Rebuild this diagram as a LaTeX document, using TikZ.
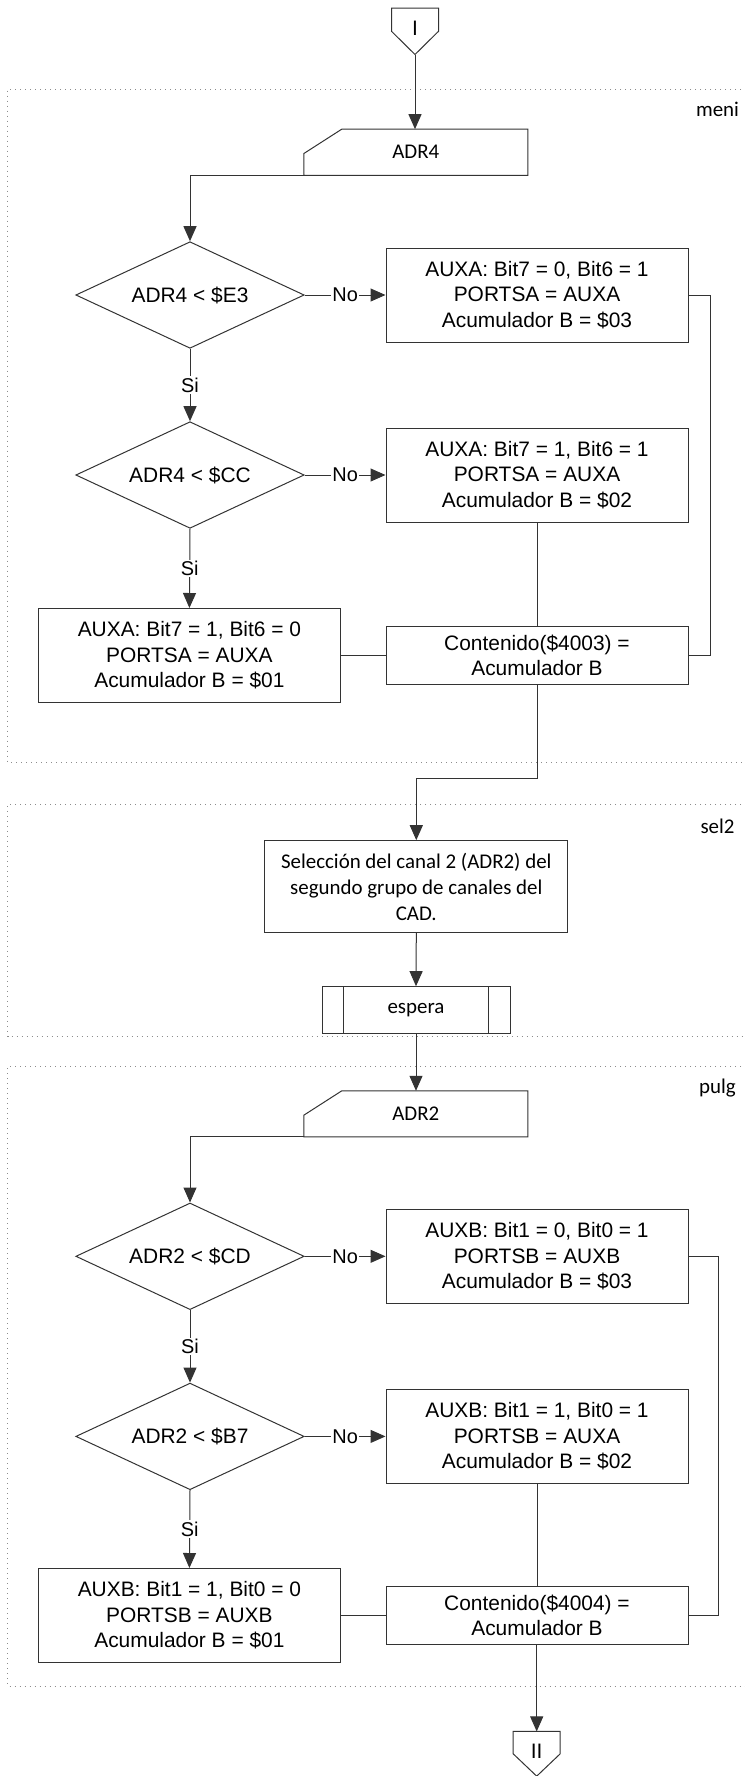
\documentclass[tikz,border=0pt]{standalone}
\usepackage{fontspec}
\setmainfont{Liberation Sans}
\newfontfamily\calibri{Carlito}
\usetikzlibrary{
    arrows.meta,
    positioning,
    calc,
    shapes.geometric
}

\tikzset{
    box/.style={draw=black!80,line width=1bp,minimum width=302bp,minimum height=94bp,
        inner sep=0pt,align=center,font=\fontsize{21}{25.5}\selectfont},
    contbox/.style={box,minimum height=57.6bp},
    cond/.style={diamond,draw=black!80,line width=1bp,minimum width=228.4bp,
        minimum height=106.6bp,shape aspect=2.14,inner sep=0pt,
        font=\fontsize{21}{25.5}\selectfont},
    inbox/.style={minimum width=223.6bp,minimum height=45.7bp,inner sep=0pt,
        font=\calibri\fontsize{21}{26}\selectfont},
    offpage/.style={minimum width=46.6bp,inner sep=0pt,font=\fontsize{21}{25.5}\selectfont},
    flow/.style={draw=black!80,line width=1bp},
    arr/.style={flow,-{Triangle[length=15bp,width=13bp]}},
    yesno/.style={fill=white,inner sep=1.5bp,font=\fontsize{20}{24}\selectfont},
    region/.style={draw=black!45,line width=1bp,dash pattern=on 1bp off 4bp},
    regname/.style={anchor=base,font=\calibri\fontsize{21}{26}\selectfont}
}

\begin{document}
\begin{tikzpicture}[x=1bp,y=-1bp]
    \useasboundingbox (0,0) rectangle (745,1776);

    % dotted regions
    \draw[region] (746,89) -- (7.5,89) -- (7.5,762) -- (746,762);
    \draw[region] (746,804.3) -- (7.5,804.3) -- (7.5,1036.7) -- (746,1036.7);
    \draw[region] (746,1066.7) -- (7.5,1066.7) -- (7.5,1686) -- (746,1686);
    \node[regname] (lmeni) at (717.5,116.7) {meni};
    \node[regname] (lsel) at (717.5,833.3) {sel2};
    \node[regname] (lpulg) at (717.5,1093.5) {pulg};

    % meni
    \node[offpage,minimum height=46bp] (conI) at (415,31.3) {\raisebox{6bp}{I}};
    \draw[flow] (conI.north west) -- (conI.north east) -- (conI.east) -- (conI.south) -- (conI.west) -- cycle;

    \node[inbox] (adr4) at (415.8,152.2) {ADR4};
    \draw[flow] (adr4.south west) -- ++(0,-21.7) -- ($(adr4.north west)+(38,0)$)
        -- (adr4.north east) -- (adr4.south east) -- cycle;

    \node[cond] (d1) at (190,295) {ADR4 < \$E3};
    \node[cond] (d2) at (190,475) {ADR4 < \$CC};
    \node[box] (b1) at (537,295) {AUXA: Bit7 = 0, Bit6 = 1\\PORTSA = AUXA\\Acumulador B = \$03};
    \node[box] (b2) at (537,475) {AUXA: Bit7 = 1, Bit6 = 1\\PORTSA = AUXA\\Acumulador B = \$02};
    \node[box] (b3) at (189.4,655.5) {AUXA: Bit7 = 1, Bit6 = 0\\PORTSA = AUXA\\Acumulador B = \$01};
    \node[contbox] (b4) at (537,655.5) {Contenido(\$4003) =\\Acumulador B};

    \draw[arr] (conI.south) -- (conI.south |- adr4.north);
    \draw[arr] (adr4.south west) -| (d1.north);
    \draw[arr] (d1.east) -- node[yesno] {No} (b1.west);
    \draw[arr] (d1.south) -- node[yesno] {Si} (d2.north);
    \draw[arr] (d2.east) -- node[yesno] {No} (b2.west);
    \draw[arr] (d2.south) -- node[yesno] {Si} (b3.north);
    \draw[flow] (b2.south) -- (b4.north);
    \draw[flow] (b3.east) -- (b4.west);
    \draw[flow] (b1.east) -- ++(21.6,0) |- (b4.east);

    % sel2
    \node[box,minimum width=303.3bp,minimum height=92bp,font=\calibri\fontsize{21}{26}\selectfont]
        (sel) at (416.3,886.7) {Selección del canal 2 (ADR2) del\\segundo grupo de canales del\\CAD.};
    \node[box,minimum width=188bp,minimum height=46.6bp,font=\calibri\fontsize{21}{26}\selectfont]
        (esp) at (416,1010) {espera};
    \draw[flow] ($(esp.north west)+(21.6,0)$) -- ($(esp.south west)+(21.6,0)$);
    \draw[flow] ($(esp.north east)+(-21.6,0)$) -- ($(esp.south east)+(-21.6,0)$);

    \draw[arr] (b4.south) -- ++(0,94) -| (sel.north);
    \draw[arr] (sel.south) -- (esp.north);

    % pulg
    \node[inbox] (adr2) at (415.8,1113.85) {ADR2};
    \draw[flow] (adr2.south west) -- ++(0,-21.7) -- ($(adr2.north west)+(38,0)$)
        -- (adr2.north east) -- (adr2.south east) -- cycle;

    \node[cond] (d3) at (190,1256.3) {ADR2 < \$CD};
    \node[cond] (d4) at (190,1436.4) {ADR2 < \$B7};
    \node[box] (b5) at (537,1256.3) {AUXB: Bit1 = 0, Bit0 = 1\\PORTSB = AUXB\\Acumulador B = \$03};
    \node[box] (b6) at (537,1436.4) {AUXB: Bit1 = 1, Bit0 = 1\\PORTSB = AUXA\\Acumulador B = \$02};
    \node[box] (b7) at (189.4,1615.5) {AUXB: Bit1 = 1, Bit0 = 0\\PORTSB = AUXB\\Acumulador B = \$01};
    \node[contbox] (b8) at (537,1615.5) {Contenido(\$4004) =\\Acumulador B};

    \node[offpage,minimum height=44.3bp] (conII) at (536.7,1753.8) {\raisebox{5.5bp}{II}};
    \draw[flow] (conII.north west) -- (conII.north east) -- (conII.east) -- (conII.south) -- (conII.west) -- cycle;

    \draw[arr] (esp.south) -- (esp.south |- adr2.north);
    \draw[arr] (adr2.south west) -| (d3.north);
    \draw[arr] (d3.east) -- node[yesno] {No} (b5.west);
    \draw[arr] (d3.south) -- node[yesno] {Si} (d4.north);
    \draw[arr] (d4.east) -- node[yesno] {No} (b6.west);
    \draw[arr] (d4.south) -- node[yesno] {Si} (b7.north);
    \draw[flow] (b6.south) -- (b8.north);
    \draw[flow] (b7.east) -- (b8.west);
    \draw[flow] (b5.east) -- ++(29.7,0) |- (b8.east);
    \draw[arr] (b8.south) -- (b8.south -| conII.north) -- (conII.north);
\end{tikzpicture}
\end{document}
